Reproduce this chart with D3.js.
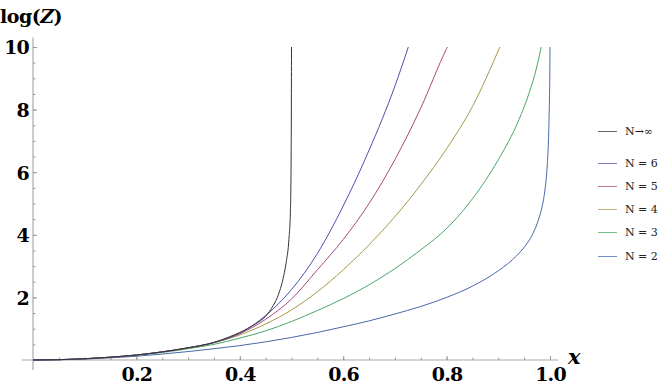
<!DOCTYPE html>
<html>
<head>
<meta charset="UTF-8">
<title>log(Z)</title>
<script src="https://cdnjs.cloudflare.com/ajax/libs/d3/7.8.5/d3.min.js"></script>
<style>
body { margin: 0; background: #fff; }
svg { display: block; }
.tick line { stroke: #999; }
.curve { fill: none; stroke-width: 1; }
</style>
</head>
<body>
<script>
// values, [x, log(Z)]
var nInf = [[0,0],[0.05,0.01],[0.1,0.04],[0.15,0.09],[0.2,0.16],[0.25,0.26],[0.3,0.39],[0.35,0.56],
  [0.38,0.74],[0.4,0.88],[0.43,1.15],[0.45,1.4],[0.465,1.75],[0.475,2.1],[0.485,2.7],[0.49,3.15],
  [0.495,3.85],[0.498,4.8],[0.4993,6.5],[0.4998,8.5],[0.5,10]];
var n6 = [[0,0],[0.05,0.01],[0.1,0.04],[0.15,0.09],[0.2,0.16],[0.25,0.26],[0.3,0.39],[0.35,0.56],
  [0.4,0.86],[0.45,1.42],[0.5,2.25],[0.55,3.4],[0.6,4.92],[0.65,6.7],[0.7,8.75],[0.726,10]];
var n5 = [[0,0],[0.05,0.01],[0.1,0.04],[0.15,0.09],[0.2,0.16],[0.25,0.26],[0.3,0.39],[0.35,0.56],
  [0.4,0.84],[0.45,1.3],[0.5,1.95],[0.55,2.88],[0.6,3.85],[0.65,5.0],[0.7,6.4],[0.75,8.05],
  [0.8,9.95],[0.8015,10]];
var n4 = [[0,0],[0.05,0.01],[0.1,0.04],[0.15,0.09],[0.2,0.16],[0.25,0.26],[0.3,0.38],[0.35,0.55],
  [0.4,0.8],[0.45,1.15],[0.5,1.6],[0.55,2.18],[0.6,2.88],[0.65,3.68],[0.7,4.58],[0.75,5.6],
  [0.8,6.75],[0.85,8.1],[0.903,10]];
var n3 = [[0,0],[0.05,0.01],[0.1,0.035],[0.15,0.085],[0.2,0.15],[0.25,0.24],[0.3,0.36],[0.35,0.5],
  [0.4,0.7],[0.45,0.93],[0.5,1.23],[0.55,1.58],[0.6,1.96],[0.65,2.4],[0.7,2.92],[0.75,3.52],
  [0.8,4.2],[0.85,5.15],[0.9,6.4],[0.94,7.68],[0.96,8.55],[0.975,9.4],[0.983,10]];
var n2 = [[0,0],[0.05,0.008],[0.1,0.03],[0.15,0.07],[0.2,0.12],[0.25,0.19],[0.3,0.27],[0.35,0.36],
  [0.4,0.46],[0.45,0.58],[0.5,0.72],[0.55,0.88],[0.6,1.06],[0.65,1.25],[0.7,1.47],[0.75,1.71],
  [0.8,2.0],[0.85,2.36],[0.9,2.85],[0.92,3.1],[0.95,3.6],[0.96,3.83],[0.97,4.15],[0.975,4.35],
  [0.98,4.6],[0.985,4.92],[0.99,5.4],[0.993,5.85],[0.995,6.3],[0.997,7.0],[0.998,7.6],
  [0.999,8.4],[0.9997,9.2],[1.0,10]];

var legendLabels = ["N\u2192\u221e", "N = 6", "N = 5", "N = 4", "N = 3", "N = 2"];
var seriesColors = ["#333333", "#5050b0", "#a8487e", "#a89848", "#48a866", "#4868a8"];
var xMajor = [0.2, 0.4, 0.6, 0.8, 1.0];
var yMajor = [2, 4, 6, 8, 10];

// Liberation Serif is not picked up here, DejaVu Serif is
var serif = "'DejaVu Serif', serif";
var width = 664, height = 392;

var svg = d3.select("body").append("svg")
    .attr("width", width)
    .attr("height", height);

var x = d3.scaleLinear().domain([0, 1]).range([33, 550]);
var y = d3.scaleLinear().domain([0, 10]).range([360, 47]);

// minor ticks every 0.05 / 0.5
var xMinor = d3.range(1, 21).map(function(i) { return i * 0.05; });
var yMinor = d3.range(1, 21).map(function(i) { return i * 0.5; });

// axis lines (a bit past the range, like the original)
svg.append("line")
    .attr("x1", x(-0.022)).attr("x2", x(1.016))
    .attr("y1", y(0)).attr("y2", y(0))
    .attr("stroke", "#aaa").attr("stroke-width", 1.2);
svg.append("line")
    .attr("x1", x(0)).attr("x2", x(0))
    .attr("y1", y(-0.32)).attr("y2", y(10.3))
    .attr("stroke", "#aaa").attr("stroke-width", 1.2);

// x axis
var gx = svg.append("g").attr("transform", "translate(0," + y(0) + ")");
gx.call(d3.axisBottom(x).tickValues(xMinor).tickSizeInner(-2.5).tickSizeOuter(0).tickFormat(""))
  .select(".domain").remove();
gx.append("g").call(d3.axisBottom(x).tickValues(xMajor).tickSizeInner(-4).tickSizeOuter(0)
    .tickPadding(8).tickFormat(d3.format(".1f")))
  .select(".domain").remove();

// y axis
var gy = svg.append("g").attr("transform", "translate(" + x(0) + ",0)");
gy.call(d3.axisLeft(y).tickValues(yMinor).tickSizeInner(-2.5).tickSizeOuter(0).tickFormat(""))
  .select(".domain").remove();
gy.append("g").call(d3.axisLeft(y).tickValues(yMajor).tickSizeInner(-4).tickSizeOuter(0)
    .tickPadding(4).tickFormat(d3.format("d")))
  .select(".domain").remove();
gy.selectAll(".tick text").attr("dy", "0.36em");

svg.selectAll(".tick text")
    .attr("font-family", null)
    .style("font-family", serif)
    .style("font-weight", "bold")
    .style("font-size", "19px")
    .style("letter-spacing", "-0.8px")
    .style("fill", "#000");

// axis labels
var lab = svg.append("text")
    .attr("x", 0).attr("y", 23)
    .style("font-family", serif)
    .style("font-weight", "bold")
    .style("font-size", "19px")
    .style("letter-spacing", "-0.5px");
lab.append("tspan").text("log(");
lab.append("tspan").style("font-style", "italic").text("Z");
lab.append("tspan").text(")");

svg.append("text")
    .attr("x", x(1.0) + 18).attr("y", y(0) + 4)
    .style("font-family", serif)
    .style("font-weight", "bold")
    .style("font-style", "italic")
    .style("font-size", "21px")
    .text("x");

// curves
var line = d3.line()
    .x(function(d) { return x(d[0]); })
    .y(function(d) { return y(d[1]); })
    .curve(d3.curveMonotoneX);

var series = [nInf, n6, n5, n4, n3, n2];
// draw N=2 first so the black one sits on top
svg.append("g").selectAll("path")
    .data(series.slice().reverse())
  .enter().append("path")
    .attr("class", "curve")
    .attr("d", line)
    .attr("stroke", function(d, i) { return seriesColors[series.length - 1 - i]; });

// legend
var legendY = [131, 163, 186, 209, 232, 256];
var legend = svg.append("g");
legendLabels.forEach(function(t, i) {
  legend.append("line")
      .attr("x1", 598).attr("x2", 617)
      .attr("y1", legendY[i] + 0.5).attr("y2", legendY[i] + 0.5)
      .attr("stroke", seriesColors[i])
      .attr("stroke-opacity", 0.75);
  legend.append("text")
      .attr("x", 625).attr("y", legendY[i])
      .attr("dy", "0.35em")
      .style("font-family", serif)
      .style("font-size", "11px")
      .style("fill", "#222")
      .text(t);
});
</script>
</body>
</html>
